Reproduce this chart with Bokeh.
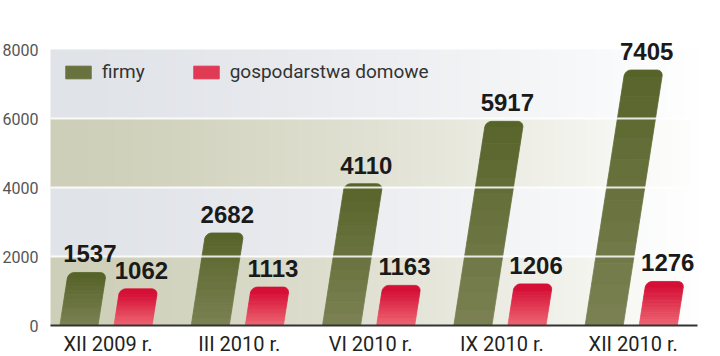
import numpy as np
from bokeh.plotting import figure
from bokeh.core.properties import value
from bokeh.models import (Legend, LegendItem, ColumnDataSource, LabelSet, Range1d)
from bokeh.embed import file_html
from bokeh.resources import INLINE

# ---- data ----
categories = ["XII 2009 r.", "III 2010 r.", "VI 2010 r.", "IX 2010 r.", "XII 2010 r."]
firmy = [1537, 2682, 4110, 5917, 7405]
gospodarstwa = [1062, 1113, 1163, 1206, 1276]
series_names = ["firmy", "gospodarstwa domowe"]
y_ticks = [0, 2000, 4000, 6000, 8000]
grid_vals = [2000, 4000, 6000]

# ---- style / geometry ----
FIG_W, FIG_H = 720, 356
PX_X = 131.3                 # px per category unit
X0_PX = 105.5                # px position of first category
X_START = -X0_PX / PX_X
X_END = (FIG_W - X0_PX) / PX_X
BAND_X0 = (50 - X0_PX) / PX_X
BAND_X1 = (700 - X0_PX) / PX_X
AXIS_X1 = (697 - X0_PX) / PX_X
PX_Y = 276 / 8000            # px per value unit
BASE_PX = 325
Y_START = -(FIG_H - BASE_PX) / PX_Y
Y_END = BASE_PX / PX_Y
BAR_W = 0.29
OFFSETS = [-0.206, 0.206]
SLANT = 4.1e-5               # x units per y unit
RX = 6 / PX_X
RY = 6 / PX_Y
N_SLICES = 12
TOP_COL = [(86, 99, 40), (212, 12, 52)]
BOT_COL = [(124, 130, 84), (238, 104, 116)]

p = figure(width=FIG_W, height=FIG_H, output_backend="svg", toolbar_location=None,
           x_range=Range1d(X_START, X_END), y_range=Range1d(Y_START, Y_END),
           min_border_left=0, min_border_right=0, min_border_top=0, min_border_bottom=0,
           x_axis_location=None, y_axis_location=None)
p.outline_line_color = None
p.xgrid.visible = False
p.ygrid.visible = False
p.background_fill_color = "white"
p.border_fill_color = "white"

# ---- background bands with horizontal fade (one image) ----
W = 300
band_left = [(206, 207, 184), (224, 227, 232), (206, 207, 184), (224, 227, 232)]
img = np.empty((4, W), dtype=np.uint32)
view = img.view(dtype=np.uint8).reshape((4, W, 4))
t = np.linspace(0, 1, W) ** 1.35
for r, col in enumerate(band_left):
    for c in range(3):
        view[r, :, c] = (col[c] + (255 - col[c]) * t).astype(np.uint8)
    view[r, :, 3] = 255
p.image_rgba(image=[img], x=BAND_X0, y=y_ticks[0], dw=BAND_X1 - BAND_X0, dh=y_ticks[-1] - y_ticks[0])


def bar_piece(c, v, y0, y1, top):
    uL, uR = c - BAR_W / 2, c + BAR_W / 2
    if not top:
        us = [uL, uR, uR, uL]
        ys = [y0, y0, y1, y1]
    else:
        us = [uL, uR]
        ys = [y0, y0]
        for a in np.linspace(0, np.pi / 2, 7):
            us.append(uR - RX + RX * np.cos(a))
            ys.append(v - RY + RY * np.sin(a))
        for a in np.linspace(np.pi / 2, np.pi, 7):
            us.append(uL + RX + RX * np.cos(a))
            ys.append(v - RY + RY * np.sin(a))
    xs = [u + SLANT * y for u, y in zip(us, ys)]
    return xs, ys


legend_items = []
for s, vals in enumerate([firmy, gospodarstwa]):
    mid_r = None
    for j in range(N_SLICES + 1):
        xs_all, ys_all = [], []
        for i, v in enumerate(vals):
            c = i + OFFSETS[s]
            body_top = v - RY
            if j < N_SLICES:
                y0 = body_top * j / N_SLICES
                y1 = body_top * (j + 1) / N_SLICES
                xs, ys = bar_piece(c, v, y0, y1, False)
            else:
                xs, ys = bar_piece(c, v, body_top, v, True)
            xs_all.append(xs)
            ys_all.append(ys)
        frac = (j + 0.5) / (N_SLICES + 1)
        col = tuple(int(BOT_COL[s][k] + (TOP_COL[s][k] - BOT_COL[s][k]) * frac) for k in range(3))
        hexc = "#%02x%02x%02x" % col
        r = p.patches(xs=xs_all, ys=ys_all, fill_color=hexc, line_color=hexc, line_width=0.8)
        if j == N_SLICES // 2:
            mid_r = r
    legend_items.append(LegendItem(label=series_names[s], renderers=[mid_r]))

# grid lines drawn over the bars, and the baseline
p.segment(x0=[BAND_X0] * len(grid_vals), y0=grid_vals, x1=[BAND_X1] * len(grid_vals),
          y1=grid_vals, line_color="white", line_width=2, line_alpha=0.85)
p.segment(x0=[BAND_X0], y0=[y_ticks[0]], x1=[AXIS_X1], y1=[y_ticks[0]],
          line_color="#333333", line_width=2)

# value labels
lx, ly, lt = [], [], []
for s, vals in enumerate([firmy, gospodarstwa]):
    for i, v in enumerate(vals):
        lx.append(i + OFFSETS[s] + SLANT * v + 0.02)
        ly.append(v)
        lt.append(str(v))
src = ColumnDataSource(dict(x=lx, y=ly, text=lt))
p.add_layout(LabelSet(x="x", y="y", text="text", source=src, y_offset=10,
                      text_align="center", text_baseline="alphabetic",
                      text_font=value("Liberation Sans"),
                      text_font_style="bold", text_font_size="24px",
                      text_color="#1a1a1a"))

# category (x) labels
csrc = ColumnDataSource(dict(x=list(range(len(categories))),
                             y=[y_ticks[0]] * len(categories), text=categories))
p.add_layout(LabelSet(x="x", y="y", text="text", source=csrc, y_offset=-25,
                      x_offset=2, text_align="center", text_baseline="alphabetic",
                      text_font=value("Roboto"), text_font_size="20px",
                      text_color="#222222"))

# value-axis (y) labels
ysrc = ColumnDataSource(dict(x=[X_START] * len(y_ticks), y=y_ticks,
                             text=[str(v) for v in y_ticks]))
p.add_layout(LabelSet(x="x", y="y", text="text", source=ysrc, x_offset=38,
                      text_align="right", text_baseline="middle",
                      text_font=value("Roboto"), text_font_size="16px",
                      text_color="#555555"))

legend = Legend(items=legend_items, orientation="horizontal", location=(62, 273),
                glyph_width=32, glyph_height=16, label_standoff=8, spacing=45,
                padding=0, margin=0, border_line_color=None, background_fill_alpha=0,
                label_text_font="Roboto", label_text_font_size="19px",
                label_text_color="#333333")
p.add_layout(legend)

open("out.html", "w").write(file_html(p, INLINE))
